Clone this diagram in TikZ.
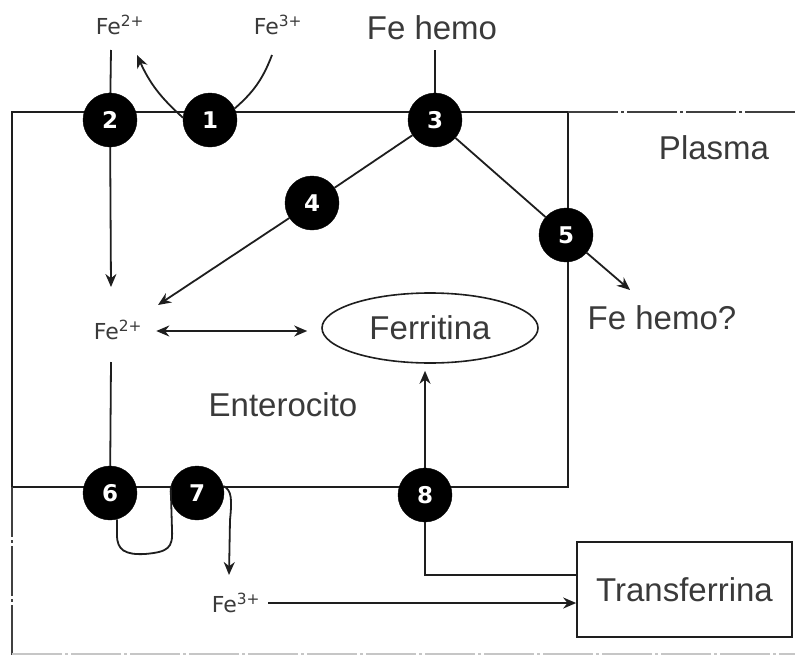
\documentclass[tikz,border=0pt]{standalone}
\usepackage{fontspec}
\setmainfont{Liberation Sans}
\newfontfamily\verd{DejaVu Sans}
\usetikzlibrary{arrows.meta,shapes.geometric}
\definecolor{ink}{HTML}{1E1E1E}
\definecolor{txt}{HTML}{3A3A3A}
\begin{document}
\begin{tikzpicture}[x=1pt,y=-1pt,
  num/.style={circle,fill=black,draw=black,minimum size=54pt,inner sep=0pt,text=white,font=\verd\bfseries\fontsize{23}{23}\selectfont},
  big/.style={text=txt,font=\fontsize{33}{33}\selectfont,inner sep=0pt},
  small/.style={text=txt,font=\verd\fontsize{22}{22}\selectfont,inner sep=0pt},
  ln/.style={draw=ink,line width=1.8pt},
  tip/.tip={Stealth[length=13pt,width=11pt]},
  arr/.style={ln,-tip},
  frame/.style={draw=ink,line width=1.8pt},
  dd/.style={draw=ink!85,line width=1.6pt,dash pattern=on 50pt off 3pt on 3pt off 3pt},
  ddl/.style={draw=gray!45,line width=1.2pt,dash pattern=on 50pt off 3pt on 3pt off 3pt}
]
\useasboundingbox (0,0) rectangle (795,656);
\fill[white] (0,0) rectangle (795,656);
% frame
\draw[frame] (12,112) rectangle (568,487);
\draw[dd] (568,112) -- (795,112);
\draw[dd] (12,487) -- (12,656);
\draw[ddl] (12,654) -- (795,654);
% labels
\node[small] (fe2t) at (120,25) {Fe\textsuperscript{2+}};
\node[small] (fe3t) at (278,25) {Fe\textsuperscript{3+}};
\node[big] (hemo) at (432,28) {Fe hemo};
\node[big] (plasma) at (714,148) {Plasma};
\node[big] (hemoq) at (662,318) {Fe hemo?};
\node[ellipse,draw=ink,line width=1.6pt,minimum width=216pt,minimum height=70pt,big] (ferr) at (430,328) {Ferritina};
\node[small] (fe2m) at (118,330) {Fe\textsuperscript{2+}};
\node[big] (entero) at (283,405) {Enterocito};
\node[small] (fe3b) at (236,603) {Fe\textsuperscript{3+}};
\node[draw=ink,line width=1.6pt,minimum width=215pt,minimum height=95pt,big] (transf) at (684.5,589.5) {Transferrina};
% circles
\node[num] (c1) at (210,120) {1};
\node[num] (c2) at (110,120) {2};
\node[num] (c3) at (435,120) {3};
\node[num] (c4) at (312,203) {4};
\node[num] (c5) at (566,235) {5};
\node[num] (c6) at (110,493) {6};
\node[num] (c7) at (197,493) {7};
\node[num] (c8) at (425,495) {8};
% free ends
\coordinate (t2) at (111,287);
\coordinate (t4) at (158,305);
\coordinate (t5) at (630,290);
\coordinate (top2) at (111,50);
\coordinate (top3) at (435,50);
\coordinate (a1) at (137,55);
\coordinate (b1) at (272,55);
% connectors
\draw[ln] (top2) -- (c2);
\draw[arr] (c2) -- (t2);
\draw[arr] (c1.175) to[bend left=12] (a1);
\draw[ln] (b1) to[bend left=14] (c1.25);
\draw[ln] (top3) -- (c3);
\draw[ln] (c3) -- (c4);
\draw[arr] (c4) -- (t4);
\draw[ln] (c3) -- (c5);
\draw[arr] (c5) -- (t5);
\draw[ln,tip-tip] ([xshift=14pt]fe2m.east |- 0,331) -- ([xshift=-14pt]ferr.west |- 0,331);
\draw[ln] (111,362) -- (c6);
\draw[ln] (c6.-75) -- (117,535) .. controls (117,550) and (125,555) .. (145,554) .. controls (168,552) and (173,548) .. (172,530) -- (c7.165);
\draw[arr] (c7.15) .. controls (232,490) and (232,500) .. (230,520) -- (229,575);
\draw[arr] ([xshift=8pt]fe3b.east) -- (fe3b -| transf.west);
\draw[ln] ([yshift=14.5pt]transf.west) -| (c8);
\draw[arr] (c8) -- ([yshift=-7pt]ferr.south -| c8);
\end{tikzpicture}
\end{document}
